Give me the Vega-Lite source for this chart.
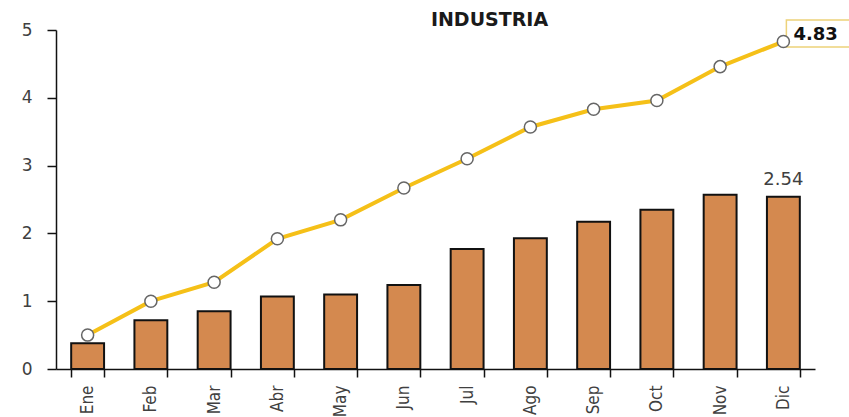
{
  "$schema": "https://vega.github.io/schema/vega-lite/v6.json",
  "autosize": {"type": "none"},
  "width": 759,
  "height": 339,
  "padding": {"left": 56, "top": 30, "right": 34, "bottom": 48},
  "background": "white",
  "title": {
    "text": "INDUSTRIA",
    "font": "DejaVu Sans",
    "fontSize": 19,
    "fontWeight": "bold",
    "color": "#1a1a1a",
    "anchor": "middle",
    "frame": "group",
    "offset": 4,
    "dx": 54,
    "dy": 17
  },
  "config": {
    "view": {"stroke": null},
    "axis": {
      "domainColor": "#111111",
      "domainWidth": 1.5,
      "tickColor": "#111111",
      "tickWidth": 1.5,
      "grid": false,
      "title": null,
      "labelColor": "#404040"
    }
  },
  "data": {
    "values": [
      {"mes": "Ene", "mensual": 0.38, "acumulado": 0.50},
      {"mes": "Feb", "mensual": 0.72, "acumulado": 1.00},
      {"mes": "Mar", "mensual": 0.85, "acumulado": 1.28},
      {"mes": "Abr", "mensual": 1.07, "acumulado": 1.92},
      {"mes": "May", "mensual": 1.10, "acumulado": 2.20},
      {"mes": "Jun", "mensual": 1.24, "acumulado": 2.67},
      {"mes": "Jul", "mensual": 1.77, "acumulado": 3.10},
      {"mes": "Ago", "mensual": 1.93, "acumulado": 3.57},
      {"mes": "Sep", "mensual": 2.17, "acumulado": 3.83},
      {"mes": "Oct", "mensual": 2.35, "acumulado": 3.96},
      {"mes": "Nov", "mensual": 2.57, "acumulado": 4.46},
      {"mes": "Dic", "mensual": 2.54, "acumulado": 4.83}
    ]
  },
  "encoding": {
    "x": {
      "field": "mes",
      "type": "ordinal",
      "sort": ["Ene", "Feb", "Mar", "Abr", "May", "Jun", "Jul", "Ago", "Sep", "Oct", "Nov", "Dic"],
      "scale": {"paddingInner": 0.48, "paddingOuter": 0.24},
      "axis": {
        "labelAngle": -90,
        "tickBand": "extent",
        "tickSize": 8,
        "labelPadding": 8,
        "labelFont": "DejaVu Sans Condensed",
        "labelFontSize": 17
      }
    }
  },
  "layer": [
    {
      "mark": {"type": "bar", "color": "#D4894F", "stroke": "#111111", "strokeWidth": 2},
      "encoding": {
        "y": {
          "field": "mensual",
          "type": "quantitative",
          "scale": {"domain": [0, 5], "nice": false},
          "axis": {
            "values": [0, 1, 2, 3, 4, 5],
            "format": "d",
            "tickSize": 9,
            "labelPadding": 15,
            "labelFont": "DejaVu Sans",
            "labelFontSize": 17
          }
        }
      }
    },
    {
      "transform": [{"filter": "datum.mes === 'Dic'"}],
      "mark": {"type": "text", "dy": -17, "font": "DejaVu Sans", "fontSize": 18, "color": "#404040"},
      "encoding": {
        "y": {"field": "mensual", "type": "quantitative"},
        "text": {"field": "mensual", "type": "quantitative", "format": ".2f"}
      }
    },
    {
      "mark": {"type": "line", "color": "#F5C018", "strokeWidth": 4},
      "encoding": {
        "y": {"field": "acumulado", "type": "quantitative"}
      }
    },
    {
      "transform": [{"filter": "datum.mes === 'Dic'"}],
      "mark": {
        "type": "point",
        "shape": "M0.1,-0.72L2.4,-0.72L2.4,0.18L0.1,0.18Z",
        "size": 3600,
        "filled": true,
        "fill": "white",
        "opacity": 1,
        "stroke": "#EDD27A",
        "strokeWidth": 1.5
      },
      "encoding": {
        "y": {"field": "acumulado", "type": "quantitative"}
      }
    },
    {
      "mark": {
        "type": "point",
        "shape": "circle",
        "size": 145,
        "filled": true,
        "fill": "white",
        "opacity": 1,
        "stroke": "#666666",
        "strokeWidth": 1.5
      },
      "encoding": {
        "y": {"field": "acumulado", "type": "quantitative"}
      }
    },
    {
      "transform": [{"filter": "datum.mes === 'Dic'"}],
      "mark": {
        "type": "text",
        "align": "left",
        "baseline": "middle",
        "dx": 10,
        "dy": -7,
        "font": "DejaVu Sans",
        "fontSize": 18,
        "fontWeight": "bold",
        "color": "#111111"
      },
      "encoding": {
        "y": {"field": "acumulado", "type": "quantitative"},
        "text": {"field": "acumulado", "type": "quantitative", "format": ".2f"}
      }
    }
  ]
}
